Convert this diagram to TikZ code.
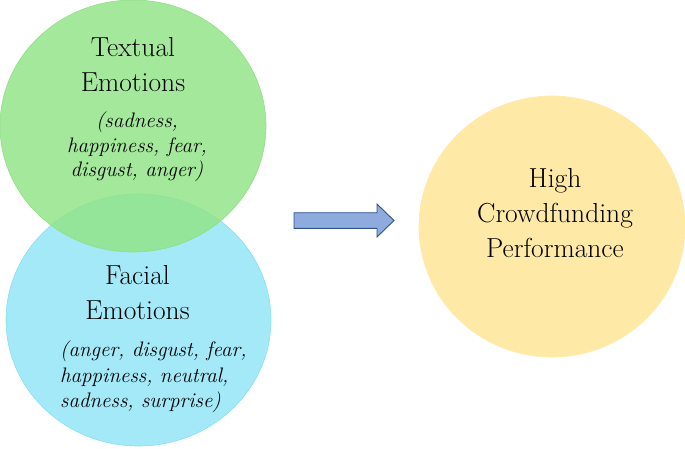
\documentclass[tikz,border=0pt]{standalone}
\usepackage{fontspec}
\usetikzlibrary{shapes.geometric}
\definecolor{greenfill}{RGB}{145,228,135}
\definecolor{greenedge}{RGB}{140,222,130}
\definecolor{bluefill}{RGB}{163,233,247}
\definecolor{blueedge}{RGB}{140,222,242}
\definecolor{yellowfill}{RGB}{255,233,166}
\definecolor{arrowfill}{RGB}{143,170,220}
\definecolor{arrowedge}{RGB}{47,82,143}
\tikzset{
  bubble/.style={ellipse, inner sep=0pt, line width=0.6pt},
  headtext/.style={inner sep=0pt, align=center, font=\fontsize{27.5}{35}\selectfont},
  listtext/.style={inner sep=0pt, font=\fontsize{21}{24.5}\selectfont\itshape},
}
\begin{document}
\begin{tikzpicture}[x=1pt,y=-1pt]
\useasboundingbox (0,0) rectangle (685,448);
\node[bubble, draw=blueedge, fill=bluefill, minimum width=265pt, minimum height=252pt] (fe) at (138.5,320) {};
\node[bubble, draw=greenedge, fill=greenfill, fill opacity=0.83, draw opacity=0.9, minimum width=266pt, minimum height=252pt] (te) at (133,126) {};
\node[bubble, draw=yellowfill, fill=yellowfill, minimum width=266pt, minimum height=261pt] (hp) at (552,226.5) {};
% text
\node[headtext] (tet) at (133,64.3) {Textual\\Emotions};
\node[listtext, align=center] (tel) at (137,146.9) {(sadness,\\happiness, fear,\\disgust, anger)};
\node[headtext] (fet) at (137.5,292.3) {Facial\\Emotions};
\node[listtext, align=left, anchor=west, font=\fontsize{21}{25.5}\selectfont\itshape] (fel) at (60,376.9) {(anger, disgust, fear,\\happiness, neutral,\\sadness, surprise)};
\node[headtext] (hpt) at (555,213.5) {High\\Crowdfunding\\Performance};
% block arrow
\draw[fill=arrowfill, draw=arrowedge, line width=0.9pt, line join=miter]
  (294,212.7) -- (377,212.7) -- (377,204) -- (394,220.5) -- (377,237) -- (377,228.3) -- (294,228.3) -- cycle;
\end{tikzpicture}
\end{document}
